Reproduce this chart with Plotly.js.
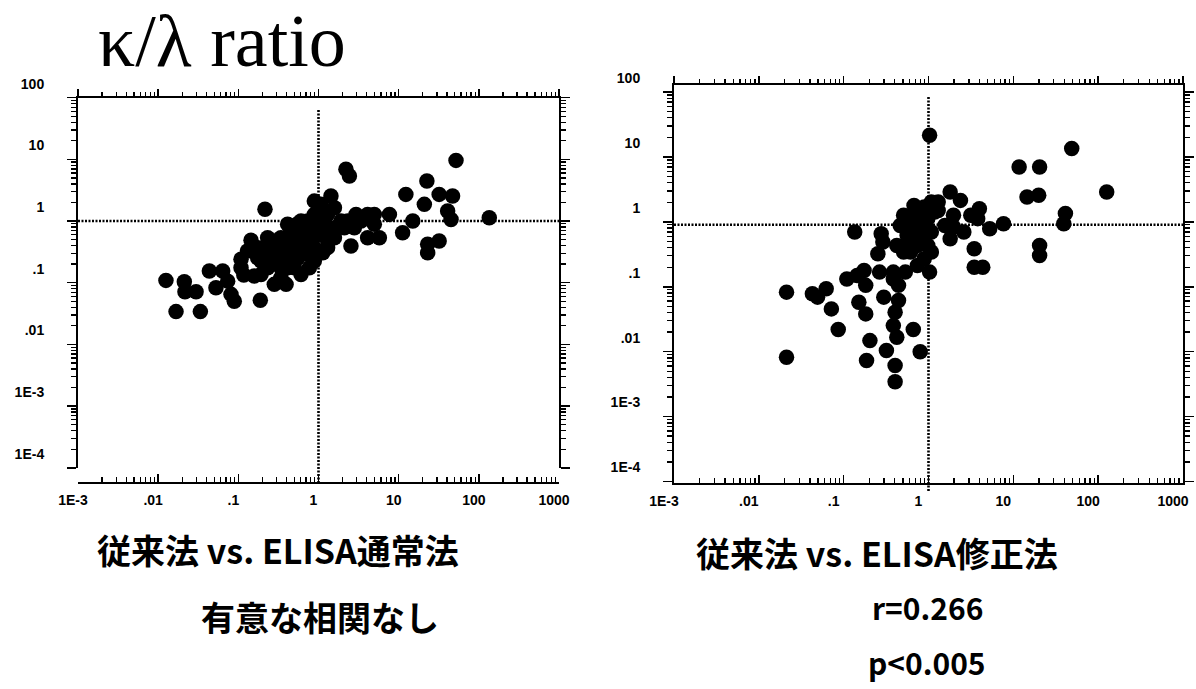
<!DOCTYPE html>
<html>
<head>
<meta charset="utf-8">
<script src="https://cdn.plot.ly/plotly-3.0.1.min.js"></script>
<style>html,body{margin:0;padding:0;background:#fff;}#chart{width:1196px;height:689px;}</style>
</head>
<body>
<div id="chart"></div>
<script>
// ---- data ----
const leftX = [0.0125,0.0167,0.0212,0.0216,0.0297,0.0336,0.0435,0.0526,0.0638,0.0736,0.081,0.089,0.108,0.117,0.158,0.188,0.215,0.144,0.174,0.192,0.221,0.281,0.281,0.324,0.394,0.34,0.412,0.454,0.5,0.605,0.733,0.769,0.887,1.07,1.18,1.43,1.3,1.13,1.58,2.1,2.2,2.43,2.54,2.94,4.1,4.97,4.1,5.74,7.66,11.2,12.3,15,20.9,22.5,23,23,32,32,40.8,47,45,51.9,135,
  0.232,0.34,0.5,0.5,0.733,0.887,1.07,1.3,1.58,1.91,2.31,2.8,3.39,4.97,0.34,0.412,0.605,0.733,0.887,0.5,0.605,0.412,0.281,0.232,0.192,0.34,0.281,1.07,0.887,0.733,0.605,0.412,0.13,0.108,0.174,0.887,1.58,1.3,
  0.45,0.55,0.65,0.8,0.95,0.38,0.3,0.7,0.6,0.9,0.25,0.45,1.2,0.8,0.55,0.2];
const leftY = [0.109,0.034,0.104,0.0714,0.0714,0.034,0.155,0.083,0.155,0.106,0.0647,0.050,0.239,0.133,0.128,0.052,1.55,0.486,0.37,0.225,0.288,0.474,0.211,0.106,0.094,0.175,0.883,0.537,0.288,1.0,0.608,0.175,0.37,1.86,1.0,2.54,1.28,0.306,0.537,0.78,6.9,5.37,0.394,1.28,1.28,0.883,0.537,0.537,1.28,0.647,2.7,1.0,1.86,4.45,0.419,0.306,2.7,0.474,1.45,2.54,1.06,9.6,1.13,
  0.537,0.537,0.78,0.474,1.0,0.78,0.608,0.474,0.78,1.0,1.0,0.78,1.0,1.28,0.327,0.37,0.37,0.288,0.225,0.175,0.136,0.175,0.288,0.175,0.136,0.12,0.094,0.883,1.28,0.474,0.608,0.225,0.327,0.175,0.254,2.1,1.64,0.37,
  0.42,0.25,0.5,0.55,0.6,0.3,0.38,0.8,0.7,0.9,0.4,0.65,0.7,0.3,0.9,0.33];

const rightX = [0.0212,0.0212,0.0428,0.0492,0.0622,0.0716,0.0863,0.109,0.135,0.151,0.174,0.182,0.182,0.204,0.186,0.253,0.277,0.297,0.319,0.385,0.404,0.404,0.385,0.423,0.443,0.404,0.385,0.533,0.662,0.798,1.03,1.03,1.08,0.89,0.675,0.509,0.464,0.423,0.614,0.74,0.89,1.08,0.813,0.98,0.675,1.08,0.74,0.614,1.8,2.38,1.97,1.56,1.97,1.8,2.61,3.15,3.98,3.8,3.46,3.46,4.36,5.27,7.66,11.7,20.4,14.5,19.9,20.4,20.4,41.1,39.3,48.8,126,
  0.56,0.675,0.509,0.813,0.98,0.89,1.18,1.18,0.74,0.56,0.29,0.144,0.265,0.443,1.3,1.3,
  0.7,0.85,0.95,0.6,0.75,0.9,1.0,0.65];
const rightY = [0.0826,0.0082,0.0778,0.0692,0.0929,0.0456,0.0219,0.132,0.696,0.0578,0.178,0.0382,0.105,0.0148,0.0073,0.322,0.656,0.0692,0.0104,0.132,0.0061,0.00345,0.0252,0.0167,0.0614,0.0406,0.168,0.168,0.0219,0.01,0.168,21.6,2.02,1.69,1.79,1.26,0.881,0.433,0.696,0.433,0.27,0.342,0.881,1.12,1.12,0.696,0.213,0.342,2.88,2.14,1.26,0.881,0.832,0.55,0.696,1.26,1.59,1.12,0.385,0.2,0.2,0.783,0.936,7.0,7.0,2.41,2.56,0.433,0.304,1.34,0.936,13.5,2.88,
  0.618,0.55,0.342,0.55,0.433,0.696,1.79,1.42,1.42,0.881,0.488,0.149,0.168,0.105,2.02,1.5,
  0.9,0.6,0.8,0.5,0.7,1.4,1.6,1.0];

const xTickVals = [0.001,0.01,0.1,1,10,100,1000];
const xTickText = ['1E-3','.01','.1','1','10','100','1000'];
const yTickVals = [0.0001,0.001,0.01,0.1,1,10,100];
const yTickText = ['1E-4','1E-3','.01','.1','1','10','100'];
const cutX = 1;          // vertical reference line (both panels)
const cutYLeft = 1;      // horizontal reference line, left panel
const cutYRight = 0.9;   // horizontal reference line, right panel

const titleText = 'κ/λ ratio';
const leftCaption = ['従来法 vs. ELISA通常法', '有意な相関なし'];
const rightCaption = ['従来法 vs. ELISA修正法', 'r=0.266', 'p<0.005'];

// ---- helpers ----
const W = 1196, H = 689;
const px = x => x / W;
const py = y => 1 - y / H;
function minorVals(lo, hi) {
  const v = [];
  for (let e = lo; e < hi; e++) for (let d = 2; d <= 9; d++) v.push(d * Math.pow(10, e));
  return v;
}
const minorXs = minorVals(-3, 3);
const minorYs = minorVals(-4, 2);

const tickFont = {family: 'Liberation Sans Narrow, Liberation Sans, Arial, sans-serif', size: 14, color: '#000', weight: 'bold'};
const axisCommon = {type: 'log', showgrid: false, zeroline: false, showline: true, linecolor: '#000', linewidth: 2, tickcolor: '#000', tickfont: tickFont, fixedrange: true};

function xBottom(dom, extra) {
  return Object.assign({}, axisCommon, {domain: dom, range: [-3, 3], ticks: 'inside', ticklen: 8, tickwidth: 1.5,
    tickmode: 'array', tickvals: xTickVals, ticktext: xTickText, ticklabelshift: -5, ticklabelstandoff: 4, ticklabeloverflow: 'allow',
    minor: {tickmode: 'array', tickvals: minorXs, ticks: 'inside', ticklen: 5, tickwidth: 1.3, tickcolor: '#000'}}, extra);
}
function xTop(dom, extra) {
  return Object.assign({}, axisCommon, {domain: dom, range: [-3, 3], side: 'top', ticks: 'outside', ticklen: 7, tickwidth: 1.5,
    tickmode: 'array', tickvals: xTickVals, showticklabels: false,
    minor: {tickmode: 'array', tickvals: minorXs, ticks: 'outside', ticklen: 4, tickwidth: 1.3, tickcolor: '#000'}}, extra);
}
function yAxis(dom, rng, extra) {
  return Object.assign({}, axisCommon, {domain: dom, range: rng, ticks: 'outside', ticklen: 9, tickwidth: 1.5, mirror: 'ticks',
    tickmode: 'array', tickvals: yTickVals, ticktext: yTickText, ticklabelshift: -14, ticklabelstandoff: 20,
    minor: {tickmode: 'array', tickvals: minorYs, ticks: 'outside', ticklen: 5, tickwidth: 1.3, tickcolor: '#000'}}, extra);
}

// panel geometry (pixels)
const L = {x0: 78, x1: 559, yTop: 97.6, yBot: 467.8, xAxisY: 483};
const R = {x0: 674, x1: 1183, frameTop: 85, y100: 92, y1e4: 481.5, xAxisY: 483};
const rDec = (R.y1e4 - R.y100) / 6;
const rMin = -4 - (R.xAxisY - R.y1e4) / rDec;
const rMax = 2 + (R.y100 - R.frameTop) / rDec;

const marker = {color: '#000', size: 15.5, line: {width: 0}};
const traces = [
  {type: 'scatter', mode: 'markers', x: leftX, y: leftY, xaxis: 'x', yaxis: 'y', marker: marker, hoverinfo: 'skip'},
  {type: 'scatter', mode: 'markers', x: [], y: [], xaxis: 'x2', yaxis: 'y', hoverinfo: 'skip'},
  {type: 'scatter', mode: 'markers', x: rightX, y: rightY, xaxis: 'x3', yaxis: 'y3', marker: marker, hoverinfo: 'skip'},
  {type: 'scatter', mode: 'markers', x: [], y: [], xaxis: 'x4', yaxis: 'y3', hoverinfo: 'skip'}
];

const dotLine = {color: '#000', width: 2.6, dash: '2px,1.5px'};
const capFont = {family: 'Noto Sans CJK JP, sans-serif', size: 34, color: '#000', weight: 'bold'};
const numFont = {family: 'Noto Sans CJK JP, sans-serif', size: 30, color: '#000', weight: 'bold'};

const layout = {
  width: W, height: H, margin: {l: 0, r: 0, t: 0, b: 0},
  paper_bgcolor: '#fff', plot_bgcolor: 'rgba(0,0,0,0)',
  showlegend: false, hovermode: false,
  xaxis: xBottom([px(L.x0), px(L.x1)], {anchor: 'free', position: py(L.xAxisY)}),
  xaxis2: xTop([px(L.x0), px(L.x1)], {overlaying: 'x', anchor: 'y'}),
  yaxis: yAxis([py(L.yBot), py(L.yTop)], [-4, 2], {anchor: 'x'}),
  xaxis3: xBottom([px(R.x0), px(R.x1)], {anchor: 'y3', ticklabelshift: -10}),
  xaxis4: xTop([px(R.x0), px(R.x1)], {overlaying: 'x3', anchor: 'y3'}),
  yaxis3: yAxis([py(R.xAxisY), py(R.frameTop)], [rMin, rMax], {anchor: 'x3'}),
  shapes: [
    {type: 'line', xref: 'x', yref: 'paper', x0: cutX, x1: cutX, y0: py(L.xAxisY), y1: py(110), line: dotLine, layer: 'below'},
    {type: 'line', xref: 'paper', yref: 'y', x0: px(L.x0), x1: px(L.x1), y0: cutYLeft, y1: cutYLeft, line: dotLine, layer: 'below'},
    {type: 'line', xref: 'x3', yref: 'paper', x0: cutX, x1: cutX, y0: py(R.xAxisY + 8), y1: py(96), line: dotLine, layer: 'below'},
    {type: 'line', xref: 'paper', yref: 'y3', x0: px(R.x0), x1: px(R.x1), y0: cutYRight, y1: cutYRight, line: dotLine, layer: 'below'}
  ],
  annotations: [
    {text: titleText, xref: 'paper', yref: 'paper', x: px(222), y: py(41), xanchor: 'center', yanchor: 'middle', showarrow: false, borderpad: 0,
      font: {family: 'Liberation Serif, Times New Roman, serif', size: 74, color: '#000'}},
    {text: leftCaption[0], xref: 'paper', yref: 'paper', x: px(278), y: py(549), xanchor: 'center', yanchor: 'middle', showarrow: false, font: capFont},
    {text: leftCaption[1], xref: 'paper', yref: 'paper', x: px(320), y: py(616), xanchor: 'center', yanchor: 'middle', showarrow: false, font: capFont},
    {text: rightCaption[0], xref: 'paper', yref: 'paper', x: px(877), y: py(552), xanchor: 'center', yanchor: 'middle', showarrow: false, font: capFont},
    {text: rightCaption[1], xref: 'paper', yref: 'paper', x: px(927), y: py(607), xanchor: 'center', yanchor: 'middle', showarrow: false, font: numFont},
    {text: rightCaption[2], xref: 'paper', yref: 'paper', x: px(927), y: py(662), xanchor: 'center', yanchor: 'middle', showarrow: false, font: numFont}
  ]
};

Plotly.newPlot('chart', traces, layout, {staticPlot: true, displayModeBar: false});
</script>
</body>
</html>
